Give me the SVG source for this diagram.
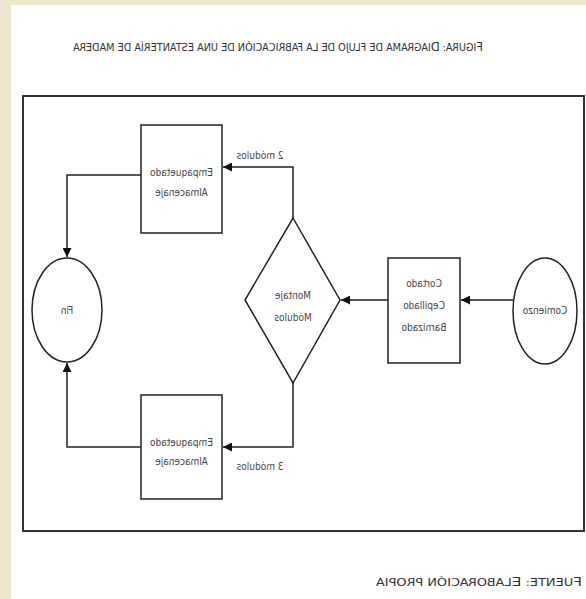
<svg xmlns="http://www.w3.org/2000/svg" width="586" height="599" viewBox="0 0 586 599">
<defs>
<style>
.ln{fill:none;stroke:#222;stroke-width:1.5}
.nd{fill:#fff;stroke:#222;stroke-width:1.5}
.t{font-family:"DejaVu Sans Condensed","DejaVu Sans",sans-serif;font-size:10px;fill:#444;text-anchor:middle}
.cap{font-family:"DejaVu Sans Condensed","DejaVu Sans",sans-serif;font-size:10.5px;fill:#333;text-anchor:middle}
</style>
<marker id="ah" viewBox="0 0 10 10" refX="10" refY="5" markerWidth="6" markerHeight="6" orient="auto" markerUnits="strokeWidth">
<path d="M0,0 L10,5 L0,10 z" fill="#111"/>
</marker>
</defs>
<rect x="0" y="0" width="586" height="599" fill="#fff"/>
<rect x="0" y="0" width="586" height="5" fill="#ece6d1"/>
<rect x="0" y="0" width="11" height="599" fill="#ece6d1"/>

<text class="cap" x="278" y="51" textLength="410" lengthAdjust="spacingAndGlyphs" transform="matrix(-1 0 0 1 556 0)"><tspan font-size="12.5">F</tspan>IGURA: <tspan font-size="12.5">D</tspan>IAGRAMA DE FLUJO DE LA FABRICACIÓN DE UNA ESTANTERÍA DE MADERA</text>

<rect id="frame" x="23" y="96" width="561" height="435" fill="#fff" stroke="#333" stroke-width="2"/>

<g id="connectors">
<line class="ln" x1="513" y1="300" x2="461" y2="300" marker-end="url(#ah)"/>
<line class="ln" x1="388" y1="300" x2="341" y2="300" marker-end="url(#ah)"/>
<polyline class="ln" points="293,218 293,167 223,167" marker-end="url(#ah)"/>
<polyline class="ln" points="293,383 293,447 223,447" marker-end="url(#ah)"/>
<polyline class="ln" points="141,175 67,175 67,257" marker-end="url(#ah)"/>
<polyline class="ln" points="141,447 67,447 67,363" marker-end="url(#ah)"/>
<text class="t" x="260" y="159" transform="matrix(-1 0 0 1 520 0)">2 módulos</text>
<text class="t" x="260" y="470" transform="matrix(-1 0 0 1 520 0)">3 módulos</text>
</g>

<g id="comienzo">
<ellipse class="nd" cx="545" cy="311" rx="32" ry="53"/>
<text class="t" x="545" y="314" transform="matrix(-1 0 0 1 1090 0)">Comienzo</text>
</g>

<g id="proceso">
<rect class="nd" x="388" y="258" width="72" height="105"/>
<text class="t" x="424" y="287" transform="matrix(-1 0 0 1 848 0)">Cortado</text>
<text class="t" x="424" y="309" transform="matrix(-1 0 0 1 848 0)">Cepillado</text>
<text class="t" x="424" y="331" transform="matrix(-1 0 0 1 848 0)">Barnizado</text>
</g>

<g id="montaje">
<polygon class="nd" points="293,218 340,300 293,383 245,300"/>
<text class="t" x="293" y="299" transform="matrix(-1 0 0 1 586 0)">Montaje</text>
<text class="t" x="293" y="321" transform="matrix(-1 0 0 1 586 0)">Módulos</text>
</g>

<g id="empaquetado1">
<rect class="nd" x="141" y="125" width="81" height="108"/>
<text class="t" x="181.5" y="176" transform="matrix(-1 0 0 1 363 0)">Empaquetado</text>
<text class="t" x="181.5" y="196" transform="matrix(-1 0 0 1 363 0)">Almacenaje</text>
</g>

<g id="empaquetado2">
<rect class="nd" x="141" y="395" width="81" height="104"/>
<text class="t" x="181.5" y="446" transform="matrix(-1 0 0 1 363 0)">Empaquetado</text>
<text class="t" x="181.5" y="465" transform="matrix(-1 0 0 1 363 0)">Almacenaje</text>
</g>

<g id="fin">
<ellipse class="nd" cx="67" cy="310" rx="35" ry="52"/>
<text class="t" x="67" y="314" transform="matrix(-1 0 0 1 134 0)">Fin</text>
</g>

<text class="cap" x="479" y="586" textLength="206" lengthAdjust="spacingAndGlyphs" transform="matrix(-1 0 0 1 958 0)"><tspan font-size="12.5">F</tspan>UENTE: <tspan font-size="12.5">E</tspan>LABORACIÓN PROPIA</text>
</svg>
